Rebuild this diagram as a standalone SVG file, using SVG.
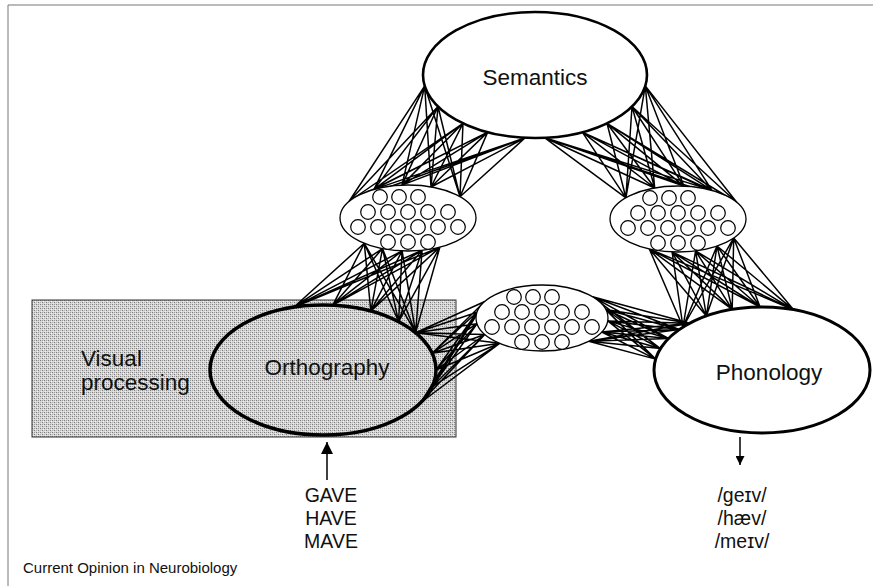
<svg xmlns="http://www.w3.org/2000/svg" xmlns:xlink="http://www.w3.org/1999/xlink" width="873" height="586" viewBox="0 0 873 586">
<style>
.lbl{font-family:"Liberation Sans",Arial,sans-serif;fill:#111}
.big{font-size:22.5px}
.mid{font-size:19.5px}
.node{stroke:#000;fill:#fff}
.conn{stroke:#000;stroke-width:1.5;fill:none}
.unit{fill:#fff;stroke:#000;stroke-width:1.2}
</style>
<defs>
<pattern id="stip" width="4" height="4" patternUnits="userSpaceOnUse">
<rect width="4" height="4" fill="#d8d8d8"/>
<rect x="0" y="0" width="1" height="1" fill="#7a7a7a"/>
<rect x="2" y="2" width="1" height="1" fill="#7a7a7a"/>
<rect x="2" y="0" width="1" height="1" fill="#9a9a9a"/>
<rect x="0" y="2" width="1" height="1" fill="#b4b4b4"/>
<rect x="1" y="3" width="1" height="1" fill="#eeeeee"/>
<rect x="3" y="1" width="1" height="1" fill="#eeeeee"/>
</pattern>
<g id="units">
<circle class="unit" cx="-28" cy="-21" r="7.3"/><circle class="unit" cx="-9" cy="-21" r="7.3"/><circle class="unit" cx="10" cy="-21" r="7.3"/>
<circle class="unit" cx="-40" cy="-6" r="7.3"/><circle class="unit" cx="-20" cy="-6" r="7.3"/><circle class="unit" cx="0" cy="-6" r="7.3"/><circle class="unit" cx="20" cy="-6" r="7.3"/><circle class="unit" cx="40" cy="-6" r="7.3"/>
<circle class="unit" cx="-50" cy="9" r="7.3"/><circle class="unit" cx="-30" cy="9" r="7.3"/><circle class="unit" cx="-10" cy="9" r="7.3"/><circle class="unit" cx="10" cy="9" r="7.3"/><circle class="unit" cx="30" cy="9" r="7.3"/><circle class="unit" cx="50" cy="9" r="7.3"/>
<circle class="unit" cx="-20" cy="24" r="7.3"/><circle class="unit" cx="0" cy="24" r="7.3"/><circle class="unit" cx="20" cy="24" r="7.3"/>
</g>
<marker id="ah" viewBox="0 0 10 10" refX="10" refY="5" markerWidth="12" markerHeight="13" orient="auto" markerUnits="userSpaceOnUse">
<path d="M0,0 L10,5 L0,10 z" fill="#000"/>
</marker>
<marker id="ah2" viewBox="0 0 10 10" refX="10" refY="5" markerWidth="10" markerHeight="9" orient="auto" markerUnits="userSpaceOnUse">
<path d="M0,0 L10,5 L0,10 z" fill="#000"/>
</marker>
</defs>

<g id="frame" stroke="#777" stroke-width="1">
<line x1="8" y1="5" x2="873" y2="5"/>
<line x1="8" y1="5" x2="8" y2="586"/>
</g>

<g id="visual-processing">
<rect x="32" y="300" width="424" height="137" fill="url(#stip)" stroke="#333" stroke-width="1"/>
<text class="lbl big" x="81" y="366">Visual</text>
<text class="lbl big" x="81" y="390">processing</text>
</g>

<g id="connectors" class="conn">
<path d="M424.7 85.9L349 201.5M424.7 85.9L374 189.4M424.7 85.9L402 185.1M424.7 85.9L431 187M424.7 85.9L460 196.8M438 106.5L349 201.5M438 106.5L374 189.4M438 106.5L402 185.1M438 106.5L431 187M438 106.5L460 196.8M463 123.3L349 201.5M463 123.3L374 189.4M463 123.3L402 185.1M463 123.3L431 187M463 123.3L460 196.8M487.7 132.1L349 201.5M487.7 132.1L374 189.4M487.7 132.1L402 185.1M487.7 132.1L431 187M487.7 132.1L460 196.8M525.2 137.8L349 201.5M525.2 137.8L374 189.4M525.2 137.8L402 185.1M525.2 137.8L431 187M525.2 137.8L460 196.8"/>
<path d="M645.3 85.9L625.9 197.8M645.3 85.9L654.7 188M645.3 85.9L683.9 186.1M645.3 85.9L712 190.4M645.3 85.9L736.9 202.5M632 106.5L625.9 197.8M632 106.5L654.7 188M632 106.5L683.9 186.1M632 106.5L712 190.4M632 106.5L736.9 202.5M607 123.3L625.9 197.8M607 123.3L654.7 188M607 123.3L683.9 186.1M607 123.3L712 190.4M607 123.3L736.9 202.5M582.3 132.1L625.9 197.8M582.3 132.1L654.7 188M582.3 132.1L683.9 186.1M582.3 132.1L712 190.4M582.3 132.1L736.9 202.5M544.8 137.8L625.9 197.8M544.8 137.8L654.7 188M544.8 137.8L683.9 186.1M544.8 137.8L712 190.4M544.8 137.8L736.9 202.5"/>
<path d="M364.3 243.3L293.8 307.2M364.3 243.3L332.8 305.2M364.3 243.3L370.8 311.1M364.3 243.3L398.6 321.7M364.3 243.3L415.6 332.7M382.5 248.6L293.8 307.2M382.5 248.6L332.8 305.2M382.5 248.6L370.8 311.1M382.5 248.6L398.6 321.7M382.5 248.6L415.6 332.7M402.1 250.9L293.8 307.2M402.1 250.9L332.8 305.2M402.1 250.9L370.8 311.1M402.1 250.9L398.6 321.7M402.1 250.9L415.6 332.7M422.1 250.3L293.8 307.2M422.1 250.3L332.8 305.2M422.1 250.3L370.8 311.1M422.1 250.3L398.6 321.7M422.1 250.3L415.6 332.7M439.9 247.1L293.8 307.2M439.9 247.1L332.8 305.2M439.9 247.1L370.8 311.1M439.9 247.1L398.6 321.7M439.9 247.1L415.6 332.7"/>
<path d="M649.3 248.9L683 327M649.3 248.9L706.4 316M649.3 248.9L732.2 309.4M649.3 248.9L760.1 307M649.3 248.9L793.6 309.8M672.1 251.9L683 327M672.1 251.9L706.4 316M672.1 251.9L732.2 309.4M672.1 251.9L760.1 307M672.1 251.9L793.6 309.8M695.6 250.9L683 327M695.6 250.9L706.4 316M695.6 250.9L732.2 309.4M695.6 250.9L760.1 307M695.6 250.9L793.6 309.8M717 246L683 327M717 246L706.4 316M717 246L732.2 309.4M717 246L760.1 307M717 246L793.6 309.8M733.7 237.9L683 327M733.7 237.9L706.4 316M733.7 237.9L732.2 309.4M733.7 237.9L760.1 307M733.7 237.9L793.6 309.8"/>
<path d="M415.6 332.7L484.8 301.5M415.6 332.7L477 312.3M415.6 332.7L477 323.7M415.6 332.7L484.8 334.5M415.6 332.7L499.6 343.3M432.1 353.2L484.8 301.5M432.1 353.2L477 312.3M432.1 353.2L477 323.7M432.1 353.2L484.8 334.5M432.1 353.2L499.6 343.3M436 370L484.8 301.5M436 370L477 312.3M436 370L477 323.7M436 370L484.8 334.5M436 370L499.6 343.3M432.1 386.8L484.8 301.5M432.1 386.8L477 312.3M432.1 386.8L477 323.7M432.1 386.8L484.8 334.5M432.1 386.8L499.6 343.3M420.9 402.5L484.8 301.5M420.9 402.5L477 312.3M420.9 402.5L477 323.7M420.9 402.5L484.8 334.5M420.9 402.5L499.6 343.3"/>
<path d="M592.6 296.8L655.6 359.1M592.6 296.8L660.5 348.5M592.6 296.8L668.5 338.5M592.6 296.8L679.3 329.5M592.6 296.8L689.7 323.2M605.8 309.5L655.6 359.1M605.8 309.5L660.5 348.5M605.8 309.5L668.5 338.5M605.8 309.5L679.3 329.5M605.8 309.5L689.7 323.2M607.7 320.9L655.6 359.1M607.7 320.9L660.5 348.5M607.7 320.9L668.5 338.5M607.7 320.9L679.3 329.5M607.7 320.9L689.7 323.2M601.8 332L655.6 359.1M601.8 332L660.5 348.5M601.8 332L668.5 338.5M601.8 332L679.3 329.5M601.8 332L689.7 323.2M588.7 341.3L655.6 359.1M588.7 341.3L660.5 348.5M588.7 341.3L668.5 338.5M588.7 341.3L679.3 329.5M588.7 341.3L689.7 323.2"/>
<line x1="327" y1="480" x2="327" y2="442" stroke-width="1.5" marker-end="url(#ah)"/>
<line x1="740" y1="437" x2="740" y2="465" stroke-width="1.5" marker-end="url(#ah2)"/>
</g>

<g id="orthography">
<ellipse cx="323" cy="370" rx="113" ry="65" fill="none" stroke="#000" stroke-width="3.5"/>
<text class="lbl big" x="327" y="375" text-anchor="middle">Orthography</text>
</g>

<g id="semantics">
<ellipse class="node" cx="535" cy="75" rx="112" ry="63" stroke-width="2.6"/>
<text class="lbl big" x="535" y="85" text-anchor="middle">Semantics</text>
</g>

<g id="phonology">
<ellipse class="node" cx="762" cy="370" rx="108" ry="63" stroke-width="3"/>
<text class="lbl big" x="769" y="380" text-anchor="middle">Phonology</text>
</g>

<g id="hidden-left">
<ellipse class="node" cx="408" cy="218" rx="68" ry="33" stroke-width="1.3"/>
<use xlink:href="#units" href="#units" x="408" y="218"/>
</g>

<g id="hidden-right">
<ellipse class="node" cx="678" cy="219" rx="68" ry="33" stroke-width="1.3"/>
<use xlink:href="#units" href="#units" x="678" y="219"/>
</g>

<g id="hidden-middle">
<ellipse class="node" cx="542" cy="318" rx="66" ry="33" stroke-width="1.3"/>
<use xlink:href="#units" href="#units" x="542" y="318"/>
</g>

<g id="input-words">
<text class="lbl mid" x="331" y="502" text-anchor="middle">GAVE</text>
<text class="lbl mid" x="331" y="525" text-anchor="middle">HAVE</text>
<text class="lbl mid" x="331" y="548" text-anchor="middle">MAVE</text>
</g>

<g id="output-phon">
<text class="lbl mid" x="742" y="502" text-anchor="middle">/geɪv/</text>
<text class="lbl mid" x="742" y="525" text-anchor="middle">/hæv/</text>
<text class="lbl mid" x="742" y="548" text-anchor="middle">/meɪv/</text>
</g>

<text class="lbl" x="23" y="573" font-size="15">Current Opinion in Neurobiology</text>
</svg>
